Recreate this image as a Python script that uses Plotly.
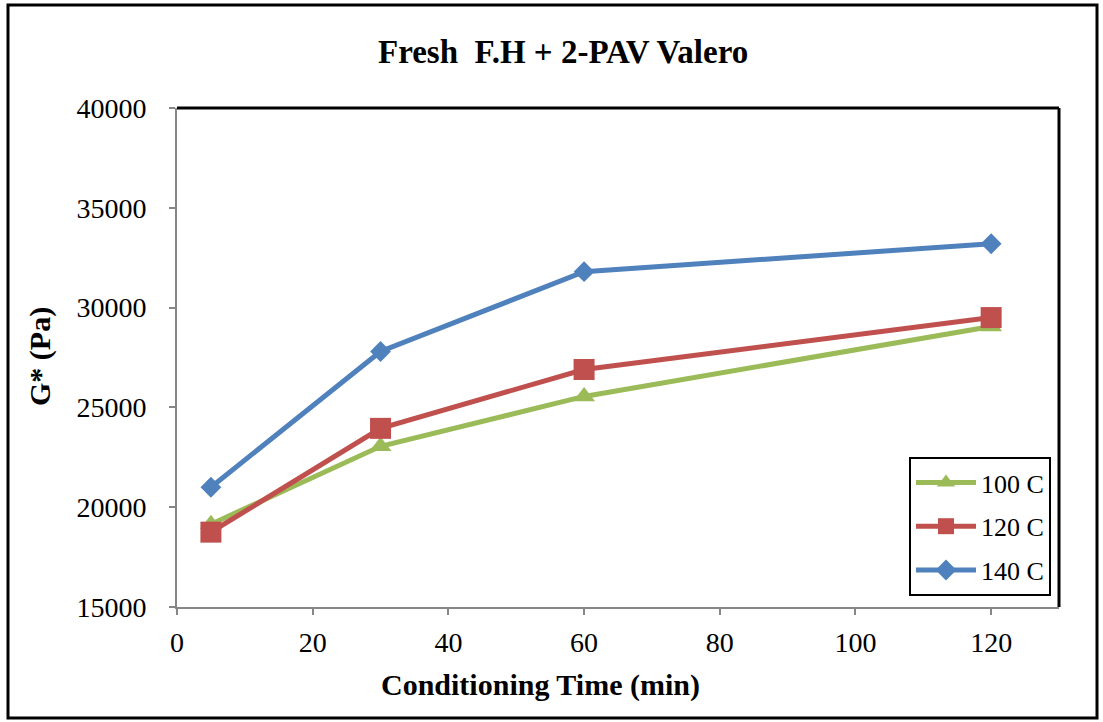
import plotly.graph_objects as go

# ---- data ----
time_min = [5, 30, 60, 120]
g_100C = [19150, 23050, 25550, 29050]
g_120C = [18750, 23950, 26900, 29500]
g_140C = [21000, 27800, 31800, 33200]
series_names = ["100 C", "120 C", "140 C"]
x_ticks = [0, 20, 40, 60, 80, 100, 120]
y_ticks = [15000, 20000, 25000, 30000, 35000, 40000]

colors = ["#9BBB59", "#C0504D", "#4F81BD"]
symbols = ["triangle-up", "square", "diamond"]
sizes = [19, 21, 16]

FONT = "Liberation Serif"

fig = go.Figure()
for name, vals, c, s, sz in zip(series_names, [g_100C, g_120C, g_140C], colors, symbols, sizes):
    fig.add_trace(go.Scatter(
        x=time_min, y=vals, name=name, mode="lines+markers",
        line=dict(color=c, width=5),
        marker=dict(symbol=s, size=sz, color=c),
        legendgroup=name,
    ))

W, H = 1103, 722
L, R, T, B = 177, 1059, 108, 607
pw, ph = R - L, B - T

def px(x):
    return (x - L) / pw

def py(y):
    return (B - y) / ph

fig.update_layout(
    width=W, height=H,
    margin=dict(l=L, r=W - R, t=T, b=H - B, pad=0),
    paper_bgcolor="white", plot_bgcolor="white",
    font=dict(family=FONT, size=28, color="black"),
    showlegend=True,
    legend=dict(
        x=px(909), y=py(457), xanchor="left", yanchor="top",
        bordercolor="black", borderwidth=2, bgcolor="white",
        font=dict(family=FONT, size=26, color="black"),
        tracegroupgap=7, itemwidth=60,
    ),
    xaxis=dict(
        range=[0, 130], tickvals=x_ticks, showgrid=False, zeroline=False,
        showline=True, linecolor="#868686", linewidth=2,
        ticks="outside", ticklen=6, tickcolor="#868686", tickwidth=2,
        tickfont=dict(family=FONT, size=28, color="black"),
        ticklabelstandoff=3,
    ),
    yaxis=dict(
        range=[15000, 40000], tickvals=y_ticks, tickformat="d",
        showgrid=False, zeroline=False,
        showline=True, linecolor="#868686", linewidth=2,
        ticks="outside", ticklen=6, tickcolor="#868686", tickwidth=2,
        tickfont=dict(family=FONT, size=28, color="black"),
        ticklabelstandoff=17,
    ),
    shapes=[
        dict(type="rect", xref="paper", yref="paper",
             x0=px(8), x1=px(1097), y0=py(718), y1=py(5),
             line=dict(color="black", width=3), layer="below"),
        dict(type="line", xref="paper", yref="paper", x0=0, x1=1, y0=1, y1=1,
             line=dict(color="black", width=3)),
        dict(type="line", xref="paper", yref="paper", x0=1, x1=1, y0=0, y1=1,
             line=dict(color="black", width=3)),
    ],
    annotations=[
        dict(text="<b>Fresh  F.H + 2-PAV Valero</b>", xref="paper", yref="paper",
             x=px(563), y=py(52), showarrow=False, xanchor="center", yanchor="middle",
             font=dict(family=FONT, size=33, color="black")),
        dict(text="<b>Conditioning Time (min)</b>", xref="paper", yref="paper",
             x=px(540), y=py(685), showarrow=False, xanchor="center", yanchor="middle",
             font=dict(family=FONT, size=30, color="black")),
        dict(text="<b>G* (Pa)</b>", xref="paper", yref="paper",
             x=px(40), y=py(357), showarrow=False, xanchor="center", yanchor="middle",
             textangle=-90, font=dict(family=FONT, size=30, color="black")),
    ],
)

fig.write_html(
    "out.html",
    config={"displayModeBar": False},
    post_script="document.body.style.margin='0';document.body.style.overflow='hidden';",
)
